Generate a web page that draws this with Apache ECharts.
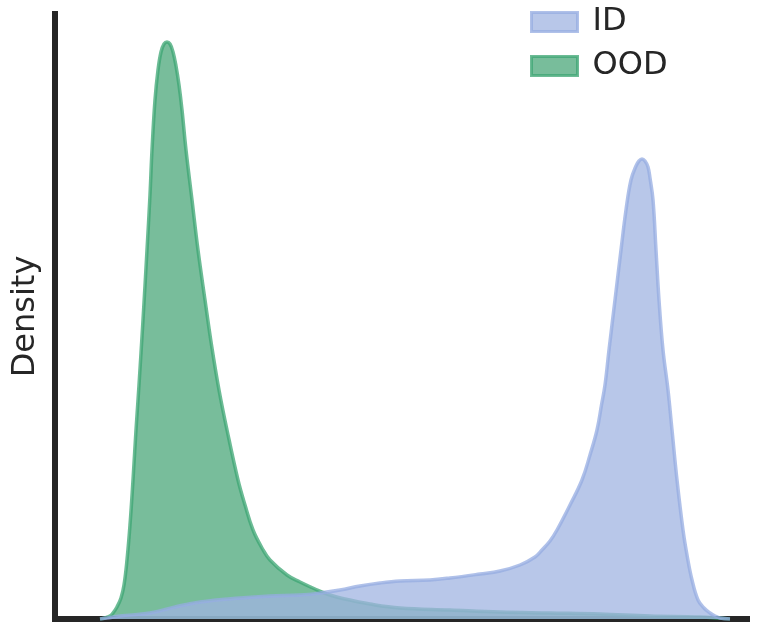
<!DOCTYPE html>
<html>
<head>
<meta charset="utf-8">
<script src="https://cdn.jsdelivr.net/npm/echarts@6/dist/echarts.min.js"></script>
<style>
	html, body { margin: 0; padding: 0; background: #fff; }
	#chartKde { width: 761px; height: 634px; }
</style>
</head>
<body>
<div id="chartKde"></div>
<script>
	// OOD score density
	var oodScore = [0.090, 0.100, 0.110, 0.116, 0.124, 0.132, 0.138, 0.144, 0.150, 0.156, 0.162, 0.168, 0.176, 0.184, 0.190,
		0.194, 0.200, 0.206, 0.212, 0.218, 0.224, 0.230, 0.236, 0.242, 0.248, 0.254, 0.262, 0.274, 0.286, 0.300,
		0.313, 0.328, 0.344, 0.366, 0.380, 0.396, 0.414, 0.430, 0.464, 0.490, 0.520, 0.550, 0.580, 0.630, 0.690,
		0.790, 0.890, 0.990, 1.090, 1.190, 1.290, 1.350];
	var oodDensity = [0.00, 0.01, 0.03, 0.06, 0.12, 0.21, 0.34, 0.59, 0.94, 1.39, 1.89, 2.34, 2.99, 3.69, 4.24,
		4.69, 5.19, 5.49, 5.67, 5.75, 5.77, 5.75, 5.67, 5.53, 5.34, 5.09, 4.69, 4.19, 3.69, 3.19,
		2.74, 2.29, 1.89, 1.39, 1.14, 0.89, 0.71, 0.59, 0.44, 0.37, 0.30, 0.24, 0.20, 0.15, 0.11,
		0.09, 0.07, 0.06, 0.05, 0.03, 0.02, 0.00];

	// ID score density
	var idScore = [0.090, 0.104, 0.130, 0.190, 0.240, 0.290, 0.370, 0.430, 0.490, 0.530, 0.570, 0.610, 0.650, 0.690,
		0.750, 0.790, 0.850, 0.890, 0.930, 0.960, 0.974, 0.990, 1.004, 1.030, 1.054, 1.070, 1.084, 1.093, 1.100,
		1.108, 1.120, 1.132, 1.142, 1.152, 1.162, 1.168, 1.174, 1.180, 1.186, 1.190, 1.196, 1.202, 1.208, 1.216,
		1.226, 1.234, 1.244, 1.256, 1.264, 1.274, 1.286, 1.298, 1.310, 1.320, 1.330, 1.350];
	var idDensity = [0.00, 0.01, 0.03, 0.06, 0.12, 0.17, 0.21, 0.23, 0.24, 0.26, 0.29, 0.33, 0.36, 0.38,
		0.39, 0.41, 0.45, 0.48, 0.54, 0.62, 0.69, 0.78, 0.89, 1.14, 1.39, 1.64, 1.89, 2.14, 2.34,
		2.69, 3.19, 3.69, 4.09, 4.39, 4.53, 4.58, 4.60, 4.58, 4.52, 4.41, 4.19, 3.69, 3.19, 2.69,
		2.29, 1.89, 1.39, 0.89, 0.64, 0.39, 0.19, 0.11, 0.06, 0.03, 0.01, 0.00];

	var legendNames = ['ID', 'OOD'];

	function pairs(xs, ys) {
		return xs.map(function (x, i) { return [x, ys[i]]; });
	}

	var idFill = 'rgba(160,180,226,0.75)';
	var idLine = 'rgba(150,172,225,0.75)';
	var oodFill = 'rgba(75,167,122,0.75)';
	var oodLine = 'rgba(60,165,115,0.75)';
	var ink = '#262626';
	var font = '"DejaVu Sans", sans-serif';

	var chartKde = echarts.init(document.getElementById('chartKde'));
	chartKde.setOption({
		animation: false,
		textStyle: { fontFamily: font },
		grid: {
			left: 55,
			right: 14,
			top: 14,
			bottom: 15
		},
		legend: {
			left: 525,
			top: 1,
			orient: 'vertical',
			itemWidth: 46,
			itemHeight: 19,
			itemGap: 12,
			textStyle: {
				fontSize: 32,
				color: ink,
				fontFamily: font,
				padding: [0, 0, 4, 10]
			},
			data: [
				{ name: legendNames[0], icon: 'rect', itemStyle: { color: idFill, borderColor: idLine, borderWidth: 3 } },
				{ name: legendNames[1], icon: 'rect', itemStyle: { color: oodFill, borderColor: oodLine, borderWidth: 3 } }
			]
		},
		xAxis: {
			type: 'value',
			min: 0,
			max: 1.384,
			axisLine: { show: true, lineStyle: { color: ink, width: 6, cap: 'square' } },
			axisTick: { show: false },
			axisLabel: { show: false },
			splitLine: { show: false }
		},
		yAxis: {
			type: 'value',
			min: 0,
			max: 6.05,
			name: 'Density',
			nameLocation: 'middle',
			nameGap: 13,
			nameTextStyle: { fontSize: 32, color: ink, fontFamily: font },
			axisLine: { show: true, lineStyle: { color: ink, width: 6, cap: 'square' } },
			axisTick: { show: false },
			axisLabel: { show: false },
			splitLine: { show: false }
		},
		series: [
			{
				name: 'OOD',
				type: 'line',
				data: pairs(oodScore, oodDensity),
				smooth: 0.4,
				showSymbol: false,
				itemStyle: { color: oodFill },
				lineStyle: { color: oodLine, width: 3.5 },
				areaStyle: { color: oodFill, opacity: 1 },
				z: 2
			},
			{
				name: 'ID',
				type: 'line',
				data: pairs(idScore, idDensity),
				smooth: 0.4,
				showSymbol: false,
				itemStyle: { color: idFill },
				lineStyle: { color: idLine, width: 3.5 },
				areaStyle: { color: idFill, opacity: 1 },
				z: 3
			}
		]
	});
</script>
</body>
</html>
